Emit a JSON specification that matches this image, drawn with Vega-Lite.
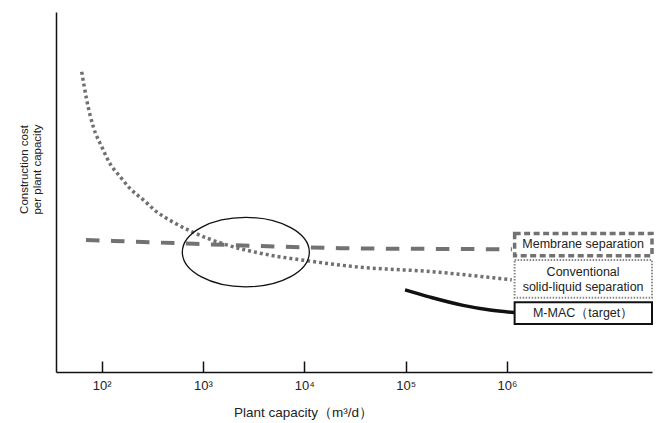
{
  "$schema": "https://vega.github.io/schema/vega-lite/v6.json",
  "width": 596,
  "height": 360,
  "autosize": {"type": "none"},
  "padding": {"left": 56, "top": 12, "right": 5, "bottom": 51},
  "config": {"view": {"stroke": null}, "font": "Liberation Sans"},
  "datasets": {
    "curves": [
      {"series": "membrane", "capacity": 70, "cost": 36.7},
      {"series": "membrane", "capacity": 593, "cost": 35.75},
      {"series": "membrane", "capacity": 3656, "cost": 35.0},
      {"series": "membrane", "capacity": 22500, "cost": 34.4},
      {"series": "membrane", "capacity": 174200, "cost": 34.2},
      {"series": "membrane", "capacity": 1120000, "cost": 34.1},
      {"series": "conventional", "capacity": 63.5, "cost": 83.4},
      {"series": "conventional", "capacity": 71.1, "cost": 75.6},
      {"series": "conventional", "capacity": 82.6, "cost": 68.1},
      {"series": "conventional", "capacity": 100, "cost": 62.6},
      {"series": "conventional", "capacity": 120.7, "cost": 57.9},
      {"series": "conventional", "capacity": 151.7, "cost": 54.3},
      {"series": "conventional", "capacity": 190.3, "cost": 51.0},
      {"series": "conventional", "capacity": 257.6, "cost": 47.8},
      {"series": "conventional", "capacity": 349, "cost": 44.5},
      {"series": "conventional", "capacity": 509, "cost": 41.6},
      {"series": "conventional", "capacity": 745, "cost": 39.2},
      {"series": "conventional", "capacity": 1714, "cost": 35.3},
      {"series": "conventional", "capacity": 3656, "cost": 33.0},
      {"series": "conventional", "capacity": 11380, "cost": 30.8},
      {"series": "conventional", "capacity": 32900, "cost": 29.2},
      {"series": "conventional", "capacity": 174200, "cost": 27.9},
      {"series": "conventional", "capacity": 1114000, "cost": 25.6},
      {"series": "mmac", "capacity": 98600, "cost": 22.8},
      {"series": "mmac", "capacity": 174200, "cost": 20.8},
      {"series": "mmac", "capacity": 369000, "cost": 18.5},
      {"series": "mmac", "capacity": 682000, "cost": 17.2},
      {"series": "mmac", "capacity": 1190000, "cost": 16.5}
    ],
    "boxes": [
      {"series": "membrane", "capacity": 1190000, "capacity2": 27000000, "cost": 32.3, "cost2": 38.5},
      {"series": "conventional", "capacity": 1190000, "capacity2": 27000000, "cost": 20.6, "cost2": 31.1},
      {"series": "mmac", "capacity": 1190000, "capacity2": 27000000, "cost": 13.3, "cost2": 19.4}
    ],
    "labels": [
      {"capacity": 5640000, "cost": 35.6, "text": "Membrane separation"},
      {"capacity": 5640000, "cost": 27.9, "text": "Conventional"},
      {"capacity": 5640000, "cost": 23.7, "text": "solid-liquid separation"},
      {"capacity": 5640000, "cost": 16.3, "text": "M-MAC（target）"}
    ],
    "focus": [{"capacity": 2646, "cost": 33.3}]
  },
  "encoding": {
    "x": {
      "field": "capacity",
      "type": "quantitative",
      "scale": {"type": "log", "domain": [35.4, 27000000], "nice": false},
      "axis": {
        "values": [100, 1000, 10000, 100000, 1000000],
        "labelExpr": "'10' + ['⁰','¹','²','³','⁴','⁵','⁶'][round(log(datum.value)/LN10)]",
        "tickSize": -11,
        "tickColor": "#111",
        "tickWidth": 1.5,
        "domainColor": "#111",
        "domainWidth": 1.5,
        "grid": false,
        "labelFontSize": 13,
        "labelColor": "#222",
        "labelPadding": 18,
        "title": "Plant capacity（m³/d）",
        "titleFontSize": 13.5,
        "titleFontWeight": "normal",
        "titleColor": "#222",
        "titleX": 247,
        "titleY": 40,
        "titleBaseline": "middle",
        "titleAlign": "center"
      }
    },
    "y": {
      "field": "cost",
      "type": "quantitative",
      "scale": {"domain": [0, 100], "nice": false},
      "axis": {
        "title": ["Construction cost", "per plant capacity"],
        "ticks": false,
        "labels": false,
        "grid": false,
        "domainColor": "#111",
        "domainWidth": 1.5,
        "titleFontSize": 11.5,
        "titleFontWeight": "normal",
        "titleColor": "#222",
        "titleLineHeight": 13.5,
        "titleX": -32,
        "titleY": 157,
        "titleBaseline": "middle",
        "titleAlign": "center",
        "titleAngle": -90
      }
    }
  },
  "layer": [
    {
      "data": {"name": "curves"},
      "transform": [{"filter": "datum.series === 'membrane'"}],
      "mark": {"type": "line", "interpolate": "monotone", "color": "#727272", "strokeWidth": 4, "strokeDash": [13.5, 11.5], "strokeCap": "butt"}
    },
    {
      "data": {"name": "curves"},
      "transform": [{"filter": "datum.series === 'conventional'"}],
      "mark": {"type": "line", "interpolate": "monotone", "color": "#707070", "strokeWidth": 3.5, "strokeDash": [3, 3], "strokeCap": "butt"}
    },
    {
      "data": {"name": "curves"},
      "transform": [{"filter": "datum.series === 'mmac'"}],
      "mark": {"type": "line", "interpolate": "monotone", "color": "#111", "strokeWidth": 3.5, "strokeCap": "butt"}
    },
    {
      "data": {"name": "focus"},
      "mark": {"type": "point", "shape": "M -1.83 0 A 1.83 1 0 1 0 1.83 0 A 1.83 1 0 1 0 -1.83 0 Z", "size": 4816, "filled": false, "stroke": "#111", "strokeWidth": 1.3, "opacity": 1}
    },
    {
      "data": {"name": "boxes"},
      "transform": [{"filter": "datum.series === 'membrane'"}],
      "mark": {"type": "rect", "fill": "white", "stroke": "#727272", "strokeWidth": 3.5, "strokeDash": [6, 3.5]},
      "encoding": {"x2": {"field": "capacity2"}, "y2": {"field": "cost2"}}
    },
    {
      "data": {"name": "boxes"},
      "transform": [{"filter": "datum.series === 'conventional'"}],
      "mark": {"type": "rect", "fill": "white", "stroke": "#888", "strokeWidth": 2, "strokeDash": [1.5, 1.5]},
      "encoding": {"x2": {"field": "capacity2"}, "y2": {"field": "cost2"}}
    },
    {
      "data": {"name": "boxes"},
      "transform": [{"filter": "datum.series === 'mmac'"}],
      "mark": {"type": "rect", "fill": "white", "stroke": "#111", "strokeWidth": 2},
      "encoding": {"x2": {"field": "capacity2"}, "y2": {"field": "cost2"}}
    },
    {
      "data": {"name": "labels"},
      "mark": {"type": "text", "fontSize": 12.5, "color": "#222", "align": "center", "baseline": "middle"},
      "encoding": {"text": {"field": "text"}}
    }
  ]
}
